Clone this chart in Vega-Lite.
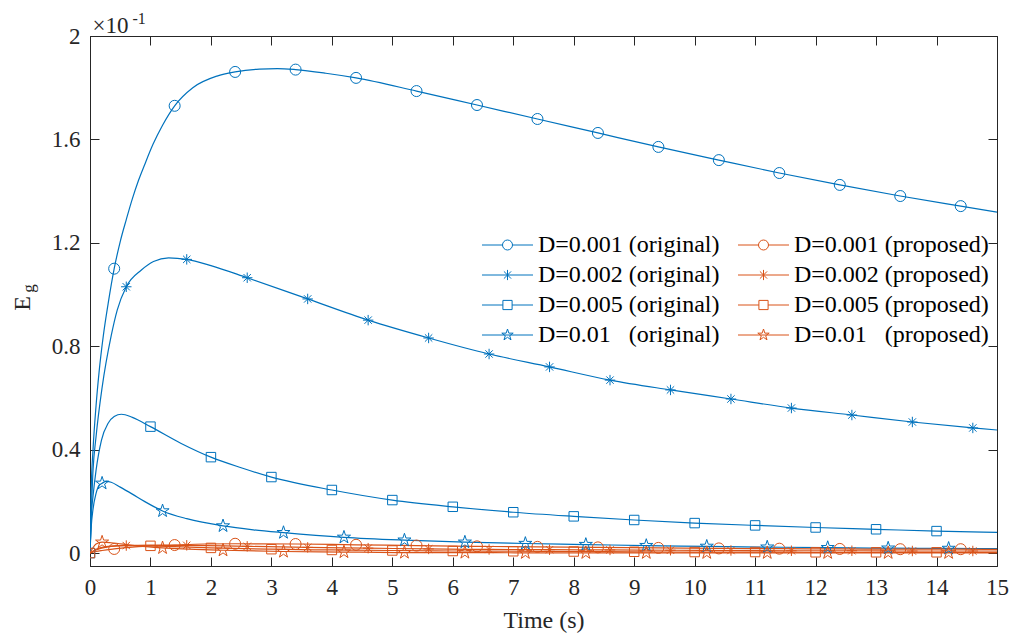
{
  "$schema": "https://vega.github.io/schema/vega-lite/v6.json",
  "width": 907,
  "height": 530,
  "autosize": {"type": "none"},
  "padding": {"left": 90, "top": 36, "right": 20, "bottom": 70},
  "background": "white",
  "config": {
    "view": {"stroke": "#262626", "strokeWidth": 1},
    "font": "Liberation Serif",
    "axis": {
      "labelFont": "Liberation Serif", "titleFont": "Liberation Serif",
      "labelFontSize": 23, "titleFontSize": 24, "titleFontWeight": "normal",
      "labelColor": "#262626", "titleColor": "#262626",
      "tickColor": "#262626", "domainColor": "#262626",
      "grid": false, "tickSize": -9, "tickWidth": 1, "labelFlush": false
    }
  },
  "data": {"values": [
    {"s":"B1","t":0,"v":0,"m":0},{"s":"B1","t":0.02,"v":0.25,"m":0},{"s":"B1","t":0.05,"v":0.4,"m":0},{"s":"B1","t":0.1,"v":0.57,"m":0},{"s":"B1","t":0.15,"v":0.7,"m":0},{"s":"B1","t":0.22,"v":0.84,"m":0},{"s":"B1","t":0.3,"v":0.965,"m":0},{"s":"B1","t":0.4,"v":1.1,"m":1},{"s":"B1","t":0.5,"v":1.205,"m":0},{"s":"B1","t":0.6,"v":1.29,"m":0},{"s":"B1","t":0.7,"v":1.37,"m":0},{"s":"B1","t":0.8,"v":1.44,"m":0},{"s":"B1","t":0.9,"v":1.5,"m":0},{"s":"B1","t":1.04,"v":1.58,"m":0},{"s":"B1","t":1.2,"v":1.655,"m":0},{"s":"B1","t":1.4,"v":1.73,"m":1},{"s":"B1","t":1.7,"v":1.8,"m":0},{"s":"B1","t":2.1,"v":1.845,"m":0},{"s":"B1","t":2.4,"v":1.861,"m":1},{"s":"B1","t":2.8,"v":1.872,"m":0},{"s":"B1","t":3.1,"v":1.874,"m":0},{"s":"B1","t":3.4,"v":1.87,"m":1},{"s":"B1","t":3.9,"v":1.856,"m":0},{"s":"B1","t":4.4,"v":1.838,"m":1},{"s":"B1","t":5.4,"v":1.787,"m":1},{"s":"B1","t":6.4,"v":1.733,"m":1},{"s":"B1","t":7.4,"v":1.679,"m":1},{"s":"B1","t":8.4,"v":1.625,"m":1},{"s":"B1","t":9.4,"v":1.571,"m":1},{"s":"B1","t":10.4,"v":1.52,"m":1},{"s":"B1","t":11.4,"v":1.47,"m":1},{"s":"B1","t":12.4,"v":1.424,"m":1},{"s":"B1","t":13.4,"v":1.381,"m":1},{"s":"B1","t":14.4,"v":1.342,"m":1},{"s":"B1","t":15,"v":1.319,"m":0},
    {"s":"B2","t":0,"v":0,"m":0},{"s":"B2","t":0.05,"v":0.32,"m":0},{"s":"B2","t":0.1,"v":0.45,"m":0},{"s":"B2","t":0.2,"v":0.64,"m":0},{"s":"B2","t":0.35,"v":0.84,"m":0},{"s":"B2","t":0.45,"v":0.94,"m":0},{"s":"B2","t":0.6,"v":1.03,"m":1},{"s":"B2","t":0.85,"v":1.095,"m":0},{"s":"B2","t":1.05,"v":1.128,"m":0},{"s":"B2","t":1.3,"v":1.142,"m":0},{"s":"B2","t":1.6,"v":1.136,"m":1},{"s":"B2","t":2.0,"v":1.112,"m":0},{"s":"B2","t":2.6,"v":1.065,"m":1},{"s":"B2","t":3.6,"v":0.983,"m":1},{"s":"B2","t":4.6,"v":0.901,"m":1},{"s":"B2","t":5.6,"v":0.832,"m":1},{"s":"B2","t":6.6,"v":0.77,"m":1},{"s":"B2","t":7.6,"v":0.72,"m":1},{"s":"B2","t":8.6,"v":0.669,"m":1},{"s":"B2","t":9.6,"v":0.631,"m":1},{"s":"B2","t":10.6,"v":0.596,"m":1},{"s":"B2","t":11.6,"v":0.561,"m":1},{"s":"B2","t":12.6,"v":0.534,"m":1},{"s":"B2","t":13.6,"v":0.507,"m":1},{"s":"B2","t":14.6,"v":0.484,"m":1},{"s":"B2","t":15,"v":0.476,"m":0},
    {"s":"B3","t":0,"v":0,"m":1},{"s":"B3","t":0.02,"v":0.14,"m":0},{"s":"B3","t":0.05,"v":0.22,"m":0},{"s":"B3","t":0.1,"v":0.32,"m":0},{"s":"B3","t":0.19,"v":0.437,"m":0},{"s":"B3","t":0.3,"v":0.502,"m":0},{"s":"B3","t":0.4,"v":0.528,"m":0},{"s":"B3","t":0.52,"v":0.537,"m":0},{"s":"B3","t":0.7,"v":0.525,"m":0},{"s":"B3","t":1,"v":0.489,"m":1},{"s":"B3","t":1.5,"v":0.425,"m":0},{"s":"B3","t":2,"v":0.371,"m":1},{"s":"B3","t":2.5,"v":0.33,"m":0},{"s":"B3","t":3,"v":0.294,"m":1},{"s":"B3","t":4,"v":0.244,"m":1},{"s":"B3","t":5,"v":0.205,"m":1},{"s":"B3","t":6,"v":0.179,"m":1},{"s":"B3","t":7,"v":0.158,"m":1},{"s":"B3","t":8,"v":0.142,"m":1},{"s":"B3","t":9,"v":0.128,"m":1},{"s":"B3","t":10,"v":0.116,"m":1},{"s":"B3","t":11,"v":0.107,"m":1},{"s":"B3","t":12,"v":0.099,"m":1},{"s":"B3","t":13,"v":0.092,"m":1},{"s":"B3","t":14,"v":0.085,"m":1},{"s":"B3","t":15,"v":0.08,"m":0},
    {"s":"B4","t":0,"v":0,"m":0},{"s":"B4","t":0.02,"v":0.1,"m":0},{"s":"B4","t":0.05,"v":0.17,"m":0},{"s":"B4","t":0.1,"v":0.231,"m":0},{"s":"B4","t":0.15,"v":0.262,"m":0},{"s":"B4","t":0.2,"v":0.27,"m":1},{"s":"B4","t":0.27,"v":0.277,"m":0},{"s":"B4","t":0.35,"v":0.274,"m":0},{"s":"B4","t":0.5,"v":0.255,"m":0},{"s":"B4","t":0.7,"v":0.228,"m":0},{"s":"B4","t":0.9,"v":0.2,"m":0},{"s":"B4","t":1.2,"v":0.163,"m":1},{"s":"B4","t":1.6,"v":0.133,"m":0},{"s":"B4","t":2.2,"v":0.105,"m":1},{"s":"B4","t":2.7,"v":0.09,"m":0},{"s":"B4","t":3.2,"v":0.079,"m":1},{"s":"B4","t":4.2,"v":0.061,"m":1},{"s":"B4","t":5.2,"v":0.05,"m":1},{"s":"B4","t":6.2,"v":0.042,"m":1},{"s":"B4","t":7.2,"v":0.037,"m":1},{"s":"B4","t":8.2,"v":0.033,"m":1},{"s":"B4","t":9.2,"v":0.029,"m":1},{"s":"B4","t":10.2,"v":0.026,"m":1},{"s":"B4","t":11.2,"v":0.023,"m":1},{"s":"B4","t":12.2,"v":0.021,"m":1},{"s":"B4","t":13.2,"v":0.019,"m":1},{"s":"B4","t":14.2,"v":0.018,"m":1},{"s":"B4","t":15,"v":0.017,"m":0},
    {"s":"O1","t":0,"v":0,"m":0},{"s":"O1","t":0.1,"v":0.006,"m":0},{"s":"O1","t":0.2,"v":0.01,"m":0},{"s":"O1","t":0.4,"v":0.016,"m":1},{"s":"O1","t":0.8,"v":0.025,"m":0},{"s":"O1","t":1.4,"v":0.031,"m":1},{"s":"O1","t":1.9,"v":0.035,"m":0},{"s":"O1","t":2.4,"v":0.036,"m":1},{"s":"O1","t":3.4,"v":0.035,"m":1},{"s":"O1","t":4.4,"v":0.032,"m":1},{"s":"O1","t":5.4,"v":0.029,"m":1},{"s":"O1","t":6.4,"v":0.026,"m":1},{"s":"O1","t":7.4,"v":0.024,"m":1},{"s":"O1","t":8.4,"v":0.022,"m":1},{"s":"O1","t":9.4,"v":0.02,"m":1},{"s":"O1","t":10.4,"v":0.018,"m":1},{"s":"O1","t":11.4,"v":0.017,"m":1},{"s":"O1","t":12.4,"v":0.016,"m":1},{"s":"O1","t":13.4,"v":0.015,"m":1},{"s":"O1","t":14.4,"v":0.015,"m":1},{"s":"O1","t":15,"v":0.014,"m":0},
    {"s":"O2","t":0,"v":0,"m":0},{"s":"O2","t":0.1,"v":0.012,"m":0},{"s":"O2","t":0.3,"v":0.024,"m":0},{"s":"O2","t":0.6,"v":0.029,"m":1},{"s":"O2","t":1,"v":0.031,"m":0},{"s":"O2","t":1.6,"v":0.03,"m":1},{"s":"O2","t":2.6,"v":0.026,"m":1},{"s":"O2","t":3.6,"v":0.022,"m":1},{"s":"O2","t":4.6,"v":0.019,"m":1},{"s":"O2","t":5.6,"v":0.016,"m":1},{"s":"O2","t":6.6,"v":0.014,"m":1},{"s":"O2","t":7.6,"v":0.013,"m":1},{"s":"O2","t":8.6,"v":0.012,"m":1},{"s":"O2","t":9.6,"v":0.011,"m":1},{"s":"O2","t":10.6,"v":0.01,"m":1},{"s":"O2","t":11.6,"v":0.009,"m":1},{"s":"O2","t":12.6,"v":0.009,"m":1},{"s":"O2","t":13.6,"v":0.008,"m":1},{"s":"O2","t":14.6,"v":0.008,"m":1},{"s":"O2","t":15,"v":0.008,"m":0},
    {"s":"O3","t":0,"v":0,"m":1},{"s":"O3","t":0.1,"v":0.015,"m":0},{"s":"O3","t":0.3,"v":0.026,"m":0},{"s":"O3","t":0.6,"v":0.03,"m":0},{"s":"O3","t":1,"v":0.028,"m":1},{"s":"O3","t":2,"v":0.02,"m":1},{"s":"O3","t":3,"v":0.015,"m":1},{"s":"O3","t":4,"v":0.012,"m":1},{"s":"O3","t":5,"v":0.01,"m":1},{"s":"O3","t":6,"v":0.008,"m":1},{"s":"O3","t":7,"v":0.007,"m":1},{"s":"O3","t":8,"v":0.006,"m":1},{"s":"O3","t":9,"v":0.005,"m":1},{"s":"O3","t":10,"v":0.004,"m":1},{"s":"O3","t":11,"v":0.004,"m":1},{"s":"O3","t":12,"v":0.003,"m":1},{"s":"O3","t":13,"v":0.003,"m":1},{"s":"O3","t":14,"v":0.003,"m":1},{"s":"O3","t":15,"v":0.003,"m":0},
    {"s":"O4","t":0,"v":0,"m":0},{"s":"O4","t":0.1,"v":0.035,"m":0},{"s":"O4","t":0.2,"v":0.042,"m":1},{"s":"O4","t":0.35,"v":0.04,"m":0},{"s":"O4","t":0.7,"v":0.03,"m":0},{"s":"O4","t":1.2,"v":0.02,"m":1},{"s":"O4","t":2.2,"v":0.011,"m":1},{"s":"O4","t":3.2,"v":0.006,"m":1},{"s":"O4","t":4.2,"v":0.004,"m":1},{"s":"O4","t":5.2,"v":0.002,"m":1},{"s":"O4","t":6.2,"v":0.002,"m":1},{"s":"O4","t":7.2,"v":0.001,"m":1},{"s":"O4","t":8.2,"v":0.001,"m":1},{"s":"O4","t":9.2,"v":0.001,"m":1},{"s":"O4","t":10.2,"v":0.001,"m":1},{"s":"O4","t":11.2,"v":0.001,"m":1},{"s":"O4","t":12.2,"v":0.001,"m":1},{"s":"O4","t":13.2,"v":0.001,"m":1},{"s":"O4","t":14.2,"v":0.001,"m":1},{"s":"O4","t":15,"v":0.001,"m":0}
  ]},
  "layer": [
    {
      "mark": {"type": "line", "strokeWidth": 1.2, "interpolate": "monotone", "clip": true},
      "encoding": {
        "x": {"field": "t", "type": "quantitative",
          "scale": {"domain": [0, 15], "nice": false, "zero": false},
          "axis": {"orient": "bottom", "values": [0,1,2,3,4,5,6,7,8,9,10,11,12,13,14,15], "labelPadding": 19, "title": "Time (s)", "titleX": 453.5, "titleY": 54, "titleBaseline": "middle", "titleAlign": "center"}},
        "y": {"field": "v", "type": "quantitative",
          "scale": {"domain": [-0.05, 2], "nice": false, "zero": false},
          "axis": {"orient": "left", "values": [0, 0.4, 0.8, 1.2, 1.6, 2], "format": "~g", "labelPadding": 19, "title": "E", "titleAngle": 270, "titleX": -68, "titleY": 267, "titleBaseline": "middle", "titleAlign": "center"}},
        "color": {"field": "s", "type": "nominal",
          "scale": {"domain": ["B1","B2","B3","B4","O1","O2","O3","O4"], "range": ["#0072BD","#0072BD","#0072BD","#0072BD","#D95319","#D95319","#D95319","#D95319"]},
          "legend": null}
      }
    },
    {
      "transform": [{"filter": "datum.m == 1"}],
      "mark": {"type": "point", "filled": false, "strokeWidth": 1, "size": 121, "opacity": 1, "clip": true},
      "encoding": {
        "x": {"field": "t", "type": "quantitative", "axis": null},
        "y": {"field": "v", "type": "quantitative", "axis": null},
        "color": {"field": "s", "type": "nominal",
          "scale": {"domain": ["B1","B2","B3","B4","O1","O2","O3","O4"], "range": ["#0072BD","#0072BD","#0072BD","#0072BD","#D95319","#D95319","#D95319","#D95319"]},
          "legend": null},
        "shape": {"field": "s", "type": "nominal",
          "scale": {"domain": ["B1","B2","B3","B4","O1","O2","O3","O4"], "range": [
            "circle",
            "M0,-0.95V0.95M-0.95,0H0.95M-0.67,-0.67L0.67,0.67M-0.67,0.67L0.67,-0.67",
            "M-0.86,-0.86H0.86V0.86H-0.86Z",
            "M0,-1.25L0.2807,-0.3863L1.189,-0.3863L0.4541,0.1476L0.735,1.011L0,0.4775L-0.735,1.011L-0.4541,0.1476L-1.189,-0.3863L-0.2807,-0.3863Z",
            "circle",
            "M0,-0.95V0.95M-0.95,0H0.95M-0.67,-0.67L0.67,0.67M-0.67,0.67L0.67,-0.67",
            "M-0.86,-0.86H0.86V0.86H-0.86Z",
            "M0,-1.25L0.2807,-0.3863L1.189,-0.3863L0.4541,0.1476L0.735,1.011L0,0.4775L-0.735,1.011L-0.4541,0.1476L-1.189,-0.3863L-0.2807,-0.3863Z"
          ]},
          "legend": null}
      }
    },
    {
      "transform": [{"filter": "datum.t < 0"}],
      "mark": {"type": "point", "filled": false, "strokeWidth": 1, "size": 400, "opacity": 1},
      "encoding": {
        "color": {"field": "s", "type": "nominal",
          "scale": {"domain": ["B1","B2","B3","B4","O1","O2","O3","O4"], "range": ["#0072BD","#0072BD","#0072BD","#0072BD","#D95319","#D95319","#D95319","#D95319"]},
          "legend": {"title": null, "orient": "none", "legendX": 405.5, "legendY": 197, "columns": 2, "padding": 0,
            "labelFont": "Liberation Serif", "labelFontSize": 24, "labelColor": "#000000", "labelLimit": 0,
            "labelOffset": 18.5, "rowPadding": 6, "columnPadding": 16, "symbolStrokeWidth": 1, "symbolSize": 400, "symbolOpacity": 1,
            "labelExpr": "datum.label == 'B1' ? 'D=0.001 (original)' : datum.label == 'O1' ? 'D=0.001 (proposed)' : datum.label == 'B2' ? 'D=0.002 (original)' : datum.label == 'O2' ? 'D=0.002 (proposed)' : datum.label == 'B3' ? 'D=0.005 (original)' : datum.label == 'O3' ? 'D=0.005 (proposed)' : datum.label == 'B4' ? 'D=0.01\u00a0\u00a0\u00a0(original)' : 'D=0.01\u00a0\u00a0\u00a0(proposed)'"}},
        "shape": {"field": "s", "type": "nominal",
          "scale": {"domain": ["B1","B2","B3","B4","O1","O2","O3","O4"], "range": [
            "M-2.55,0H-0.5M0.5,0H2.55M-0.5,0A0.5,0.5,0,1,0,0.5,0A0.5,0.5,0,1,0,-0.5,0",
            "M-2.55,0H2.55M0,-0.51V0.51M-0.36,-0.36L0.36,0.36M-0.36,0.36L0.36,-0.36",
            "M-2.55,0H-0.46M0.46,0H2.55M-0.46,-0.46H0.46V0.46H-0.46Z",
            "M-2.55,0H2.55M0,-0.6L0.1346,-0.1851L0.5699,-0.1851L0.2178,0.0706L0.3524,0.4848L0,0.229L-0.3524,0.4848L-0.2178,0.0706L-0.5699,-0.1851L-0.1346,-0.1851Z",
            "M-2.55,0H-0.5M0.5,0H2.55M-0.5,0A0.5,0.5,0,1,0,0.5,0A0.5,0.5,0,1,0,-0.5,0",
            "M-2.55,0H2.55M0,-0.51V0.51M-0.36,-0.36L0.36,0.36M-0.36,0.36L0.36,-0.36",
            "M-2.55,0H-0.46M0.46,0H2.55M-0.46,-0.46H0.46V0.46H-0.46Z",
            "M-2.55,0H2.55M0,-0.6L0.1346,-0.1851L0.5699,-0.1851L0.2178,0.0706L0.3524,0.4848L0,0.229L-0.3524,0.4848L-0.2178,0.0706L-0.5699,-0.1851L-0.1346,-0.1851Z"
          ]}}
      }
    },
    {
      "transform": [{"filter": "datum.t < 0"}],
      "mark": {"type": "point", "opacity": 0},
      "encoding": {
        "x": {"field": "t", "type": "quantitative",
          "axis": {"orient": "top", "values": [0,1,2,3,4,5,6,7,8,9,10,11,12,13,14,15], "labels": false, "domain": false,
            "title": "-1", "titleFontSize": 16, "titleX": 42, "titleY": -13, "titleAlign": "left", "titleBaseline": "alphabetic"}},
        "y": {"field": "v", "type": "quantitative",
          "axis": {"orient": "right", "values": [0, 0.4, 0.8, 1.2, 1.6, 2], "labels": false, "domain": false,
            "title": "g", "titleFontSize": 17, "titleAngle": 270, "titleX": -969, "titleY": 252, "titleAlign": "center", "titleBaseline": "middle"}}
      }
    },
    {
      "transform": [{"filter": "datum.t < 0"}],
      "mark": {"type": "point", "opacity": 0},
      "encoding": {
        "x": {"field": "t", "type": "quantitative",
          "axis": {"orient": "top", "labels": false, "ticks": false, "domain": false,
            "title": "×10", "titleFontSize": 23, "titleX": 2, "titleY": -4, "titleAlign": "left", "titleBaseline": "alphabetic"}}
      }
    }
  ],
  "resolve": {
    "scale": {"color": "independent", "shape": "independent"},
    "axis": {"x": "independent", "y": "independent"}
  }
}
